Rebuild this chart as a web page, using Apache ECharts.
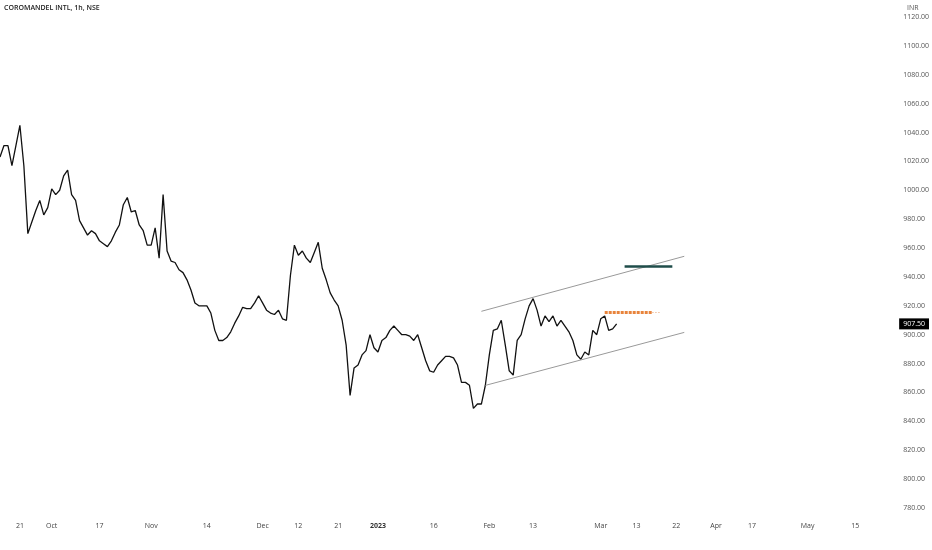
<!DOCTYPE html>
<html><head><meta charset="utf-8">
<script src="https://cdn.jsdelivr.net/npm/echarts@6/dist/echarts.min.js"></script>
<style>html,body{margin:0;padding:0;background:#fff}#c{width:932px;height:550px}</style>
</head><body><div id="c"></div>
<script>
const prices = [1023,1031,1031,1017,1031,1045,1017,970,978,986,993,983,988,1001,997,1000,1010,1014,997,993,979,974,969,972,970,965,963,961,965,971,976,990,995,985,986,976,972,962,962,974,953,997,958,951,950,945,943,938,931,922,920,920,920,915,903,896,896,898,902,908,913,919,918,918,922,927,922,917,915,914,917,911,910,941,962,955,958,953,950,957,964,946,938,929,924,920,910,893,858,877,879,886,889,900,891,888,896,898,903,906,903,900,900,899,896,900,891,882,875,874,879,882,885,885,884,879,867,867,865,849,852,852,865,886,903,904,910,893,875,872,896,900,911,920,925,917,906,913,909,913,906,910,906,902,896,886,883,888,886,903,900,911,913,903,904,907.5];
const slotCount = 225;
const tickSlots = [5,13,25,38,52,66,75,85,95,109,123,134,151,160,170,180,189,203,215];
const tickLabels = ['21','Oct','17','Nov','14','Dec','12','21','2023','16','Feb','13','Mar','13','22','Apr','17','May','15'];
const upperChannel = [[121,916.2],[172,954.3]];
const lowerChannel = [[122,864.9],[172,901.6]];
const orangeLevel = [[152,915.5],[164,915.5]];
const orangeDots = [[164,915.5],[166,915.5]];
const tealLevel = [[157,947.7],[169,947.7]];
const lastPrice = 907.5;

const cats = Array.from({length: slotCount}, () => '');
tickSlots.forEach((s, i) => cats[s] = tickLabels[i]);
const seg = (p, style) => [{coord: p[0], lineStyle: style}, {coord: p[1]}];

const chart = echarts.init(document.getElementById('c'));
chart.setOption({
  animation: false,
  grid: {left: 0, right: 37, top: 17, bottom: 42},
  graphic: [
    {type: 'text', left: 4, top: 4, style: {text: 'COROMANDEL INTL, 1h, NSE', font: '600 7px "Open Sans"', fill: '#222'}},
    {type: 'text', left: 907, top: 4, style: {text: 'INR', font: '7px "Open Sans"', fill: '#555'}}
  ],
  xAxis: {
    type: 'category', data: cats, boundaryGap: false,
    axisLine: {show: false}, axisTick: {show: false}, splitLine: {show: false},
    axisLabel: {interval: (i, v) => v !== '', color: '#444', fontSize: 7, margin: 14,
      fontFamily: 'Open Sans',
      formatter: v => v === '2023' ? '{b|2023}' : v,
      rich: {b: {fontWeight: 'bold', fontSize: 7, color: '#333'}}}
  },
  yAxis: {
    type: 'value', position: 'right', min: 780, max: 1120, interval: 20,
    axisLine: {show: false}, axisTick: {show: false}, splitLine: {show: false},
    axisLabel: {color: '#555', fontSize: 7, fontFamily: 'Open Sans', margin: 12,
      formatter: v => v.toFixed(2)}
  },
  series: [{
    type: 'line', data: prices, showSymbol: false, symbol: 'none',
    lineStyle: {color: '#111', width: 1.3},
    markLine: {
      symbol: 'none', silent: true, label: {show: false},
      data: [
        seg(upperChannel, {color: '#999', width: 1, type: 'solid'}),
        seg(lowerChannel, {color: '#999', width: 1, type: 'solid'}),
        seg(orangeLevel, {color: '#e8843c', width: 3, type: [3, 1]}),
        seg(orangeDots, {color: '#e8a070', width: 1, type: [1, 2]}),
        seg(tealLevel, {color: '#1f4d4a', width: 2.5, type: 'solid'})
      ]
    }
  }, {
    type: 'line', data: [], 
    markLine: {
      symbol: 'none', silent: true,
      lineStyle: {color: 'rgba(0,0,0,0)', width: 1, type: 'solid'},
      data: [{yAxis: lastPrice,
        label: {show: true, position: 'end', distance: 8, formatter: '907.50',
          backgroundColor: '#000', color: '#fff', fontSize: 7, fontFamily: 'Open Sans',
          padding: [2, 4]}}]
    }
  }]
});
</script></body></html>
